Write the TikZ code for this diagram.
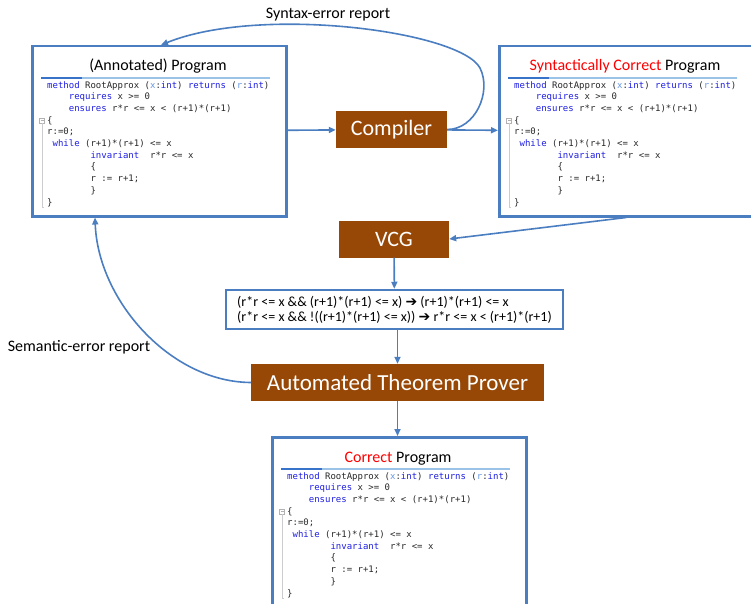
\documentclass[tikz,border=0pt]{standalone}
\usepackage{fontspec}
\setmainfont{Carlito}
\newfontfamily\codefont{DejaVu Sans Mono}
\newfontfamily\symfont{DejaVu Sans}
\usepackage{tikz}
\usetikzlibrary{arrows.meta,positioning,calc}

\definecolor{lineblue}{RGB}{74,126,193}
\definecolor{boxbrown}{RGB}{152,72,6}
\definecolor{kwblue}{RGB}{30,30,225}
\definecolor{parblue}{RGB}{100,150,230}
\definecolor{codegray}{RGB}{40,40,40}
\definecolor{ulight}{RGB}{155,195,232}
\definecolor{udark}{RGB}{55,115,200}

\newcommand\kw[1]{\textcolor{kwblue}{#1}}
\newcommand\pv[1]{\textcolor{parblue}{#1}}
\newcommand\ind[1]{\hspace*{#1\fontcharwd\font`x}}
\newcommand\bigarr{{\symfont\char"2794}}

\newcommand\rootcode{%
\kw{method} RootApprox (\pv{x}:\kw{int}) \kw{returns} (\pv{r}:\kw{int})\\
\ind{4}\kw{requires} x >= 0\\
\ind{4}\kw{ensures} r*r <= x < (r+1)*(r+1)\\
\{\\
r:=0;\\
\ind{1}\kw{while} (r+1)*(r+1) <= x\\
\ind{8}\kw{invariant}\ind{2}r*r <= x\\
\ind{8}\{\\
\ind{8}r := r+1;\\
\ind{8}\}\\
\}}

% program box: name, x, y (top left), title
\newcommand\progbox[4]{%
  \node[progbox, anchor=north west] (#1) at (#2,#3) {};
  \node[progtitle] (#1-title) at ($(#1.north west)+(127,26)$) {#4};
  \draw[ulight, line width=1.2pt] ($(#1.north west)+(10,33)$) -- ($(#1.north west)+(239,33)$);
  \draw[udark, line width=1.2pt] ($(#1.north west)+(10,33)$) -- ($(#1.north west)+(51,33)$);
  \node[progcode] (#1-code) at ($(#1.north west)+(16,36)$) {\rootcode};
  \draw[gray!60, line width=0.5pt] ($(#1.north west)+(8.5,73)$) rectangle ($(#1.north west)+(13.5,78)$);
  \draw[gray!60, line width=0.5pt] ($(#1.north west)+(9.5,75.5)$) -- ($(#1.north west)+(12.5,75.5)$);
  \draw[gray!40, line width=0.5pt] ($(#1.north west)+(11,78)$) -- ($(#1.north west)+(11,162)$) -- ($(#1.north west)+(13,162)$);
}

\begin{document}
\begin{tikzpicture}[x=1pt, y=-1pt,
    progbox/.style={draw=lineblue, line width=2.5pt, minimum width=254, minimum height=170, inner sep=0},
    progtitle/.style={anchor=base, inner sep=0, font=\fontsize{16}{19}\selectfont},
    progcode/.style={anchor=north west, inner sep=0, align=left, text=codegray,
      font=\codefont\fontsize{9}{11.7}\selectfont},
    stage/.style={fill=boxbrown, text=white, minimum height=37, inner sep=0,
      font=\fontsize{22}{26}\selectfont},
    formbox/.style={draw=lineblue, line width=2.5pt, minimum width=337, minimum height=39,
      inner sep=0, align=left, font=\fontsize{14}{15}\selectfont},
    errlabel/.style={inner sep=0, font=\fontsize{16}{19}\selectfont},
    flow/.style={draw=lineblue, line width=1.6pt, -{Triangle[length=7pt,width=6pt]}}]
  \useasboundingbox (0,0) rectangle (751,604);

  \progbox{annot}{31}{45}{(Annotated) Program}
  \progbox{syn}{498}{45}{\textcolor{red}{Syntactically Correct} Program}
  \progbox{correct}{271}{436}{\textcolor{red}{Correct} Program}

  \node[stage, minimum width=111] (compiler) at (391.5,129.5) {Compiler};
  \node[stage, minimum width=110] (vcg) at (394,239) {VCG};
  \node[formbox] (vc) at (394.5,309.5) {%
    (r*r <= x \&\& (r+1)*(r+1) <= x) \bigarr{} (r+1)*(r+1) <= x\\
    (r*r <= x \&\& !((r+1)*(r+1) <= x)) \bigarr{} r*r <= x < (r+1)*(r+1)};
  \node[stage, minimum width=293, font=\fontsize{23}{27}\selectfont] (atp) at (397.5,382.5) {Automated Theorem Prover};

  \node[errlabel] (synlabel) at (328,15) {Syntax-error report};
  \node[errlabel] (semlabel) at (79,347) {Semantic-error report};

  \coordinate (synend) at ($(annot.north west)+(130,0)$);
  \coordinate (semend) at ($(annot.south west)+(64,0)$);

  \draw[flow] (annot) -- (compiler);
  \draw[flow] (compiler) -- (syn);
  \draw[flow] (compiler.east) .. controls +(28,0) and (492,92) .. (480,68)
    .. controls (460,31) and (260,5) .. (synend);
  \draw[flow] (syn.south) -- (vcg.east);
  \draw[flow] (vcg) -- (vc);
  \draw[flow] (atp.north |- vc.south) -- (atp.north);
  \draw[flow] (atp.south) -- (atp.south |- correct.north);
  \draw[flow] (atp.west) .. controls (170,382) and (98,300) .. (semend);
\end{tikzpicture}
\end{document}
